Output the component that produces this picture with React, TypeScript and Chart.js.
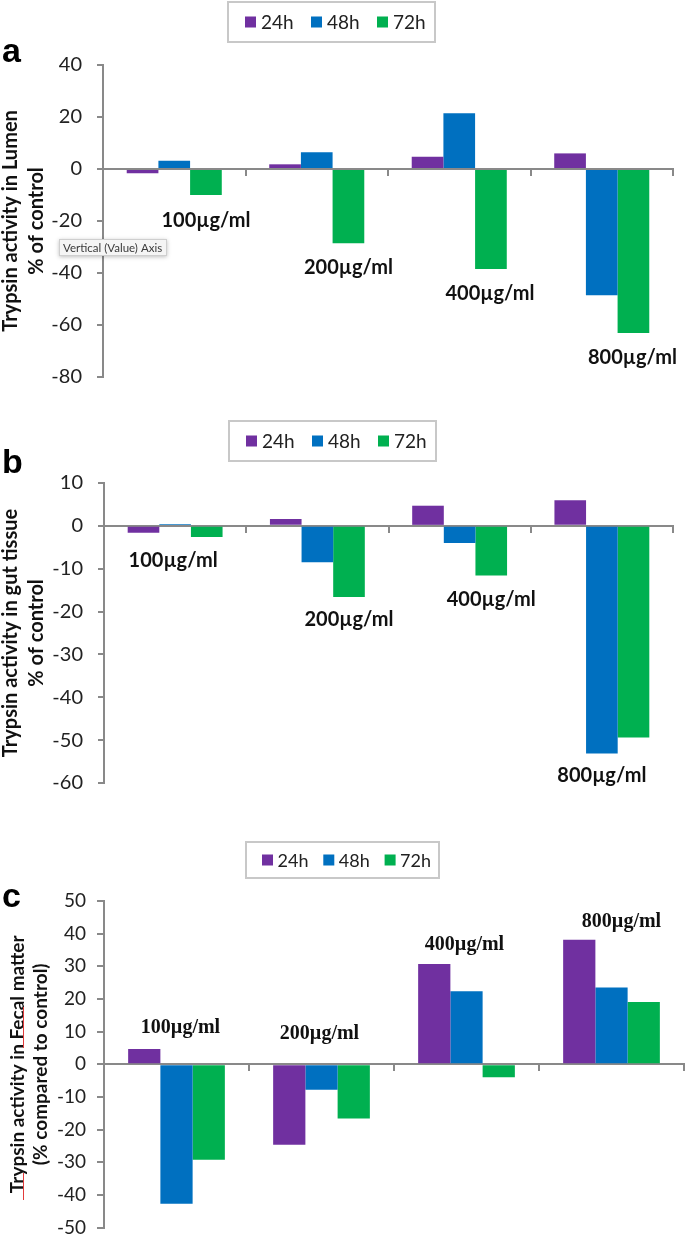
import React, { useEffect, useRef } from "react";
import { Chart, registerables } from "chart.js";

Chart.register(...registerables);

// ---------- data ----------
const doses = ["100µg/ml", "200µg/ml", "400µg/ml", "800µg/ml"];
const seriesNames = ["24h", "48h", "72h"];
const seriesColors = ["#7030A0", "#0070C0", "#00B050"];

// (a) Trypsin activity in lumen, % of control
const lumen24 = [-1.6, 1.8, 4.7, 6.0];
const lumen48 = [3.2, 6.4, 21.4, -48.6];
const lumen72 = [-10.0, -28.6, -38.5, -63.1];
const lumenTicks = [-80, 40, 20]; // min, max, step

// (b) Trypsin activity in gut tissue, % of control
const gut24 = [-1.6, 1.6, 4.7, 6.0];
const gut48 = [0.4, -8.5, -4.0, -53.1];
const gut72 = [-2.6, -16.6, -11.6, -49.4];
const gutTicks = [-60, 10, 10];

// (c) Trypsin activity in fecal matter, % compared to control
const fecal24 = [4.7, -24.6, 30.7, 38.1];
const fecal48 = [-42.7, -7.8, 22.4, 23.5];
const fecal72 = [-29.2, -16.6, -4.0, 19.1];
const fecalTicks = [-50, 50, 10];

// ---------- layout / style ----------
const AXIS_GRAY = "#898989";
const W = 685;

type PanelCfg = {
  letter: string;
  letterPos: [number, number];
  top: number;
  height: number;
  area: { left: number; right: number; top: number; bottom: number };
  series: number[][];
  ticks: number[];
  tickFont: number;
  tickPad: number;
  tickLen: number;
  title: string[];
  titleFont: number;
  titleLH: number;
  titlePad: number;
  legend: { x: number; y: number; w: number; h: number; first: number; spacing: number; sq: number; textOff: number; font: number };
  labelFont: string;
  labelBar: number[];
  labelDx: number[];
  labelY: number[];
  tooltip?: { x: number; y: number; w: number; h: number; text: string };
  squiggles?: [number, number, number][];
};

const panels: PanelCfg[] = [
  {
    letter: "a",
    letterPos: [2, 62],
    top: 0,
    height: 410,
    area: { left: 103, right: 673, top: 65, bottom: 377 },
    series: [lumen24, lumen48, lumen72],
    ticks: lumenTicks,
    tickFont: 20,
    tickPad: 15,
    tickLen: 6,
    title: ["Trypsin activity in Lumen", "% of control"],
    titleFont: 20,
    titleLH: 1.33,
    titlePad: -3,
    legend: { x: 228, y: 2, w: 207, h: 40, first: 17, spacing: 66, sq: 11, textOff: 16, font: 19 },
    labelFont: "bold 20px Lato",
    labelBar: [2, 2, 2, 2],
    labelDx: [0, 0, -1, -1],
    labelY: [-20, -38, -48, -72.5],
    tooltip: { x: 59, y: 239, w: 108, h: 17, text: "Vertical (Value) Axis" },
  },
  {
    letter: "b",
    letterPos: [2, 58],
    top: 415,
    height: 395,
    area: { left: 104, right: 673, top: 68, bottom: 385 },
    series: [gut24, gut48, gut72],
    ticks: gutTicks,
    tickFont: 20,
    tickPad: 15,
    tickLen: 6,
    title: ["Trypsin activity in gut tissue", "% of control"],
    titleFont: 20,
    titleLH: 1.33,
    titlePad: -3,
    legend: { x: 229, y: 6, w: 207, h: 40, first: 17, spacing: 66, sq: 11, textOff: 16, font: 19 },
    labelFont: "bold 20px Lato",
    labelBar: [1, 2, 2, 1],
    labelDx: [-2, 0, 0, 0],
    labelY: [-8.2, -21.9, -17.3, -58.3],
  },
  {
    letter: "c",
    letterPos: [2, 97],
    top: 810,
    height: 440,
    area: { left: 104, right: 684, top: 91, bottom: 433 },
    series: [fecal24, fecal48, fecal72],
    ticks: fecalTicks,
    tickFont: 19,
    tickPad: 11,
    tickLen: 7,
    title: ["Trypsin activity in Fecal matter", "(% compared to control)"],
    titleFont: 19,
    titleLH: 1.25,
    titlePad: 5.5,
    legend: { x: 246, y: 32, w: 193, h: 36, first: 16, spacing: 61.3, sq: 11, textOff: 15.5, font: 18 },
    labelFont: "bold 20px 'Liberation Serif'",
    labelBar: [1, 1, 1, 1],
    labelDx: [4, -2, -2, 10],
    labelY: [11.2, 9.4, 36.6, 43.6],
    squiggles: [
      [23.5, 363, 390],
      [23.5, 197, 238],
    ],
  },
];

function overlayPlugin(p: PanelCfg) {
  return {
    id: "overlay",
    afterDraw(chart: any) {
      const ctx: CanvasRenderingContext2D = chart.ctx;
      const yScale = chart.scales.y;
      ctx.save();

      // dose labels
      ctx.font = p.labelFont;
      ctx.fillStyle = "#111";
      ctx.textAlign = "center";
      ctx.textBaseline = "middle";
      doses.forEach((d, i) => {
        const bar = chart.getDatasetMeta(p.labelBar[i]).data[i];
        ctx.fillText(d, bar.x + p.labelDx[i], yScale.getPixelForValue(p.labelY[i]));
      });

      // legend box
      const L = p.legend;
      ctx.fillStyle = "#fff";
      ctx.fillRect(L.x, L.y, L.w, L.h);
      ctx.strokeStyle = "#c8c8c8";
      ctx.lineWidth = 2;
      ctx.strokeRect(L.x, L.y, L.w, L.h);
      const cy = L.y + L.h / 2;
      ctx.font = `${L.font}px Lato`;
      ctx.textAlign = "left";
      ctx.textBaseline = "middle";
      chart.data.datasets.forEach((ds: any, k: number) => {
        const sx = L.x + L.first + k * L.spacing;
        ctx.fillStyle = ds.backgroundColor;
        ctx.fillRect(sx, cy - L.sq / 2, L.sq, L.sq);
        ctx.fillStyle = "#222";
        ctx.fillText(ds.label, sx + L.textOff, cy + 1);
      });

      // panel letter
      ctx.font = "bold 34px 'Liberation Sans'";
      ctx.fillStyle = "#000";
      ctx.textBaseline = "alphabetic";
      ctx.fillText(p.letter, p.letterPos[0], p.letterPos[1]);

      // spell-check squiggles
      if (p.squiggles) {
        ctx.strokeStyle = "#e23b3b";
        ctx.lineWidth = 1;
        p.squiggles.forEach(([x, y1, y2]) => {
          ctx.beginPath();
          ctx.moveTo(x, y1);
          ctx.lineTo(x, y2);
          ctx.stroke();
        });
      }

      // screen tooltip
      if (p.tooltip) {
        const t = p.tooltip;
        ctx.save();
        ctx.shadowColor = "rgba(0,0,0,0.25)";
        ctx.shadowBlur = 4;
        ctx.shadowOffsetY = 1;
        ctx.fillStyle = "#f5f5f5";
        ctx.fillRect(t.x, t.y, t.w, t.h);
        ctx.restore();
        ctx.strokeStyle = "#cfcfcf";
        ctx.lineWidth = 1;
        ctx.strokeRect(t.x + 0.5, t.y + 0.5, t.w - 1, t.h - 1);
        ctx.fillStyle = "#3a3a3a";
        ctx.font = "11.5px Lato";
        ctx.textAlign = "left";
        ctx.textBaseline = "middle";
        ctx.fillText(t.text, t.x + 4, t.y + t.h / 2 + 0.5);
      }
      ctx.restore();
    },
  };
}

function Panel({ p }: { p: PanelCfg }) {
  const ref = useRef<HTMLCanvasElement | null>(null);
  useEffect(() => {
    if (!ref.current) return;
    const [min, max, step] = p.ticks;
    const chart = new Chart(ref.current, {
      type: "bar",
      data: {
        labels: doses,
        datasets: p.series.map((vals, k) => ({
          label: seriesNames[k],
          data: vals,
          backgroundColor: seriesColors[k],
          borderWidth: 0,
          categoryPercentage: 0.667,
          barPercentage: 1,
        })),
      },
      options: {
        responsive: false,
        animation: false,
        events: [],
        layout: {
          padding: {
            left: 0,
            top: p.area.top,
            right: W - p.area.right,
            bottom: p.height - p.area.bottom,
          },
        },
        plugins: {
          legend: { display: false },
          tooltip: { enabled: false },
          title: { display: false },
        },
        scales: {
          x: {
            type: "category",
            position: { y: 0 } as any,
            offset: true,
            z: 1,
            grid: {
              display: true,
              drawOnChartArea: false,
              drawTicks: true,
              tickLength: 6,
              color: AXIS_GRAY,
              lineWidth: 2,
              offset: true,
            },
            border: { display: true, color: AXIS_GRAY, width: 2 },
            ticks: { display: false },
            afterFit: (s: any) => {
              s.height = 0;
            },
          },
          y: {
            min,
            max,
            ticks: {
              stepSize: step,
              padding: p.tickPad,
              color: "#222",
              font: { family: "Lato", size: p.tickFont },
            },
            grid: {
              drawOnChartArea: false,
              drawTicks: true,
              tickLength: p.tickLen,
              color: AXIS_GRAY,
              lineWidth: 2,
            },
            border: { display: true, color: AXIS_GRAY, width: 2 },
            title: {
              display: true,
              text: p.title,
              color: "#111",
              font: { family: "Lato", size: p.titleFont, weight: "bold", lineHeight: p.titleLH },
              padding: { top: p.titlePad, bottom: 0 },
            },
            afterFit: (s: any) => {
              s.width = p.area.left;
            },
          },
        },
      },
      plugins: [overlayPlugin(p)],
    } as any);
    return () => chart.destroy();
  }, [p]);
  return (
    <canvas
      ref={ref}
      width={W}
      height={p.height}
      style={{ position: "absolute", left: 0, top: p.top, width: W, height: p.height }}
    />
  );
}

export default function App() {
  return (
    <div
      style={{
        position: "absolute",
        left: 0,
        top: 0,
        width: W,
        height: 1250,
        background: "#fff",
        overflow: "hidden",
      }}
    >
      {panels.map((p) => (
        <Panel key={p.letter} p={p} />
      ))}
    </div>
  );
}
